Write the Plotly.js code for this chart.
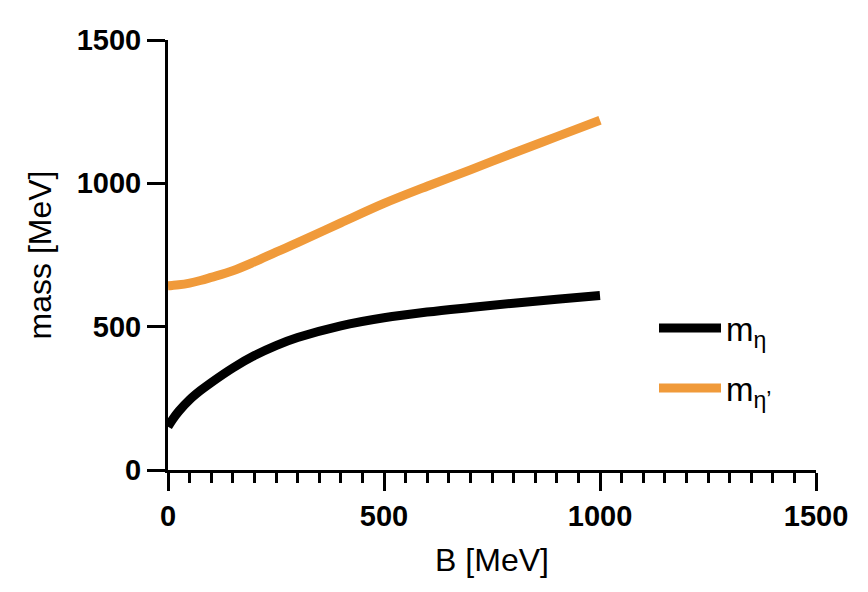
<!DOCTYPE html>
<html>
<head>
<meta charset="utf-8">
<script src="https://cdn.plot.ly/plotly-3.0.1.min.js"></script>
<style>
  html, body { margin: 0; padding: 0; background: #fff; }
  #chart_area { width: 868px; height: 592px; }
</style>
</head>
<body>
<div id="chart_area"></div>
<script>
// magnetic field values (MeV)
var bField = [0, 10, 25, 50, 75, 100, 150, 200, 250, 300, 400, 500, 600, 700, 800, 900, 1000];

// masses (MeV)
var etaMass = [151, 175, 205, 245, 277, 305, 356, 399, 434, 462, 503, 531, 551, 567, 582, 596, 609];
var etaPrimeMass = [643, 644, 646, 652, 661, 672, 695, 726, 760, 793, 862, 930, 990, 1047, 1106, 1163, 1220];

var xTicks = [0, 500, 1000, 1500];
var yTicks = [0, 500, 1000, 1500];

var data = [
    {
        x: bField,
        y: etaMass,
        type: 'scatter',
        mode: 'lines',
        name: 'm<sub>η</sub>',
        legendgroup: 'a',
        hoverinfo: 'none',
        line: { color: '#000000', width: 9, shape: 'spline', smoothing: 1 }
    },
    {
        x: bField,
        y: etaPrimeMass,
        type: 'scatter',
        mode: 'lines',
        name: 'm<sub>η\u2019</sub>',
        legendgroup: 'b',
        hoverinfo: 'none',
        line: { color: '#f09a3a', width: 9, shape: 'spline', smoothing: 1 }
    }
];

var tickFont = { family: 'Liberation Sans, Arial, sans-serif', size: 29, color: '#000', weight: 'bold' };
var titleFont = { family: 'Liberation Sans, Arial, sans-serif', size: 32, color: '#000' };

var layout = {
    width: 868,
    height: 592,
    margin: { l: 168, r: 52, t: 40, b: 122 },
    paper_bgcolor: '#ffffff',
    plot_bgcolor: '#ffffff',
    showlegend: true,
    legend: {
        x: 0.75,
        xanchor: 'left',
        y: 0.395,
        yanchor: 'top',
        font: { family: 'Liberation Sans, Arial, sans-serif', size: 33, color: '#000' },
        bgcolor: 'rgba(0,0,0,0)',
        tracegroupgap: 14,
        itemwidth: 62
    },
    xaxis: {
        range: [0, 1500],
        tickvals: xTicks,
        ticktext: xTicks.map(String),
        showgrid: false,
        zeroline: false,
        showline: true,
        linecolor: '#000',
        linewidth: 3,
        ticks: 'outside',
        ticklen: 18,
        tickwidth: 3,
        tickcolor: '#000',
        minor: { dtick: 50, ticks: 'outside', ticklen: 10, tickwidth: 3, tickcolor: '#000', showgrid: false },
        tickfont: tickFont,
        title: { text: 'B [MeV]', font: titleFont, standoff: 18 }
    },
    yaxis: {
        range: [0, 1500],
        tickvals: yTicks,
        ticktext: yTicks.map(String),
        showgrid: false,
        zeroline: false,
        showline: true,
        linecolor: '#000',
        linewidth: 3,
        ticks: 'outside',
        ticklen: 18,
        tickwidth: 3,
        tickcolor: '#000',
        tickfont: tickFont,
        title: { text: 'mass [MeV]', font: titleFont, standoff: 16 }
    }
};

var config = { displayModeBar: false, staticPlot: true };

Plotly.newPlot('chart_area', data, layout, config);
</script>
</body>
</html>
